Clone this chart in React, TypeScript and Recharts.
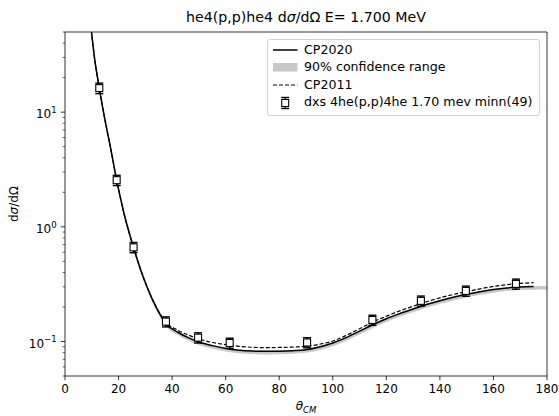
import {
  ComposedChart,
  Line,
  Area,
  Scatter,
  ErrorBar,
  XAxis,
  YAxis,
  ReferenceArea,
  Legend,
} from 'recharts';

const curveTheta = [
  9.6, 11, 12.8, 15, 17, 19.3, 22, 25.6, 28, 31, 34, 37.7, 42, 46, 50, 55, 60, 65, 70, 75,
  80, 85, 90, 95, 100, 105, 110, 115, 120, 125, 130, 135, 140, 145, 150, 155, 160, 165, 170, 175,
];
const cp2020 = [
  58, 30, 16.2, 8.4, 4.9, 2.55, 1.32, 0.66, 0.44, 0.285, 0.2, 0.143, 0.121, 0.108, 0.099, 0.092,
  0.087, 0.084, 0.0825, 0.082, 0.0823, 0.0832, 0.0848, 0.0895, 0.097, 0.108, 0.123, 0.14, 0.158,
  0.175, 0.192, 0.21, 0.227, 0.243, 0.258, 0.272, 0.284, 0.293, 0.299, 0.301,
];
const cp2011 = [
  58, 30, 16.2, 8.4, 4.9, 2.55, 1.32, 0.66, 0.44, 0.285, 0.2, 0.147, 0.126, 0.114, 0.105, 0.098,
  0.094, 0.0908, 0.089, 0.0884, 0.0887, 0.0894, 0.0906, 0.0945, 0.101, 0.113, 0.129, 0.148, 0.166,
  0.185, 0.203, 0.222, 0.24, 0.257, 0.272, 0.288, 0.302, 0.313, 0.321, 0.326,
];

const bandTheta = [...curveTheta, 180];
const bandLow = [
  55, 28.5, 15.4, 8.0, 4.65, 2.42, 1.25, 0.625, 0.415, 0.27, 0.189, 0.135, 0.114, 0.102, 0.093,
  0.0865, 0.0818, 0.079, 0.0776, 0.0771, 0.0774, 0.0782, 0.0797, 0.0837, 0.091, 0.101, 0.115,
  0.131, 0.148, 0.164, 0.18, 0.197, 0.213, 0.228, 0.242, 0.255, 0.266, 0.275, 0.281, 0.283, 0.284,
];
const bandHigh = [
  59, 30.4, 16.4, 8.5, 4.95, 2.58, 1.34, 0.668, 0.445, 0.288, 0.202, 0.145, 0.123, 0.109, 0.1,
  0.093, 0.088, 0.0849, 0.0834, 0.0829, 0.0832, 0.0841, 0.0857, 0.0899, 0.098, 0.109, 0.124,
  0.142, 0.16, 0.177, 0.194, 0.212, 0.229, 0.245, 0.26, 0.274, 0.286, 0.295, 0.301, 0.303, 0.304,
];

// minn(49) data set
const expTheta = [12.8, 19.3, 25.6, 37.7, 49.7, 61.5, 90.4, 114.8, 132.9, 149.7, 168.4];
const expValue = [16.2, 2.55, 0.662, 0.149, 0.108, 0.097, 0.098, 0.154, 0.226, 0.276, 0.318];
const expError = [1.7, 0.26, 0.068, 0.015, 0.011, 0.0098, 0.0099, 0.0155, 0.023, 0.028, 0.032];

const xTicks = [0, 20, 40, 60, 80, 100, 120, 140, 160, 180];
const yMajorTicks = [0.1, 1, 10];
const yMajorExponents = ['\u22121', '0', '1'];
const yMinorTicks = [
  0.05, 0.06, 0.07, 0.08, 0.09, 0.2, 0.3, 0.4, 0.5, 0.6, 0.7, 0.8, 0.9,
  2, 3, 4, 5, 6, 7, 8, 9, 20, 30, 40, 50,
];

const FONT = '"DejaVu Sans", sans-serif';

const cp2020Data = curveTheta.map((t, i) => ({ theta: t, y: cp2020[i] }));
const cp2011Data = curveTheta.map((t, i) => ({ theta: t, y: cp2011[i] }));
const bandData = bandTheta.map((t, i) => ({ theta: t, range: [bandLow[i], bandHigh[i]] }));
const expData = expTheta.map((t, i) => ({ theta: t, y: expValue[i], err: expError[i] }));

function XTick(props: any) {
  const { x, y, payload } = props;
  return (
    <g>
      <line x1={x} x2={x} y1={y} y2={y + 4.2} stroke="#000" strokeWidth={0.8} />
      <text x={x} y={y + 17.4} textAnchor="middle" fontSize={12} fontFamily={FONT} fill="#000">
        {payload.value}
      </text>
    </g>
  );
}

function YTick(props: any) {
  const { x, y, payload } = props;
  const idx = yMajorTicks.indexOf(payload.value);
  const major = idx >= 0;
  return (
    <g>
      <line x1={x - (major ? 4.2 : 2.4)} x2={x} y1={y} y2={y} stroke="#000" strokeWidth={major ? 0.8 : 0.6} />
      {major && (
        <text x={x - 8.4} y={y + 6.3} textAnchor="end" fontSize={12} fontFamily={FONT} fill="#000">
          10
          <tspan dy={-5.4} fontSize={8.5}>
            {yMajorExponents[idx]}
          </tspan>
        </text>
      )}
    </g>
  );
}

function SquareMarker(props: any) {
  const { cx, cy } = props;
  if (cx == null || cy == null) return null;
  return <rect x={cx - 3.5} y={cy - 3.5} width={7} height={7} fill="#fff" stroke="#000" strokeWidth={1.1} />;
}

function LegendBox() {
  const row = { display: 'flex', alignItems: 'center', height: 17.6 } as const;
  const handle = { width: 36, flex: 'none' } as const;
  return (
    <div
      style={{
        boxSizing: 'border-box',
        width: 273,
        height: 77,
        paddingTop: 1,
        border: '1px solid #d0d0d0',
        borderRadius: 3,
        background: 'rgba(255,255,255,0.8)',
        fontFamily: FONT,
        fontSize: 12.6,
        color: '#000',
        lineHeight: 1,
        whiteSpace: 'nowrap',
      }}
    >
      <div style={row}>
        <svg style={handle} width={36} height={12}>
          <line x1={5} x2={29.5} y1={6} y2={6} stroke="#000" strokeWidth={1.5} />
        </svg>
        <span>CP2020</span>
      </div>
      <div style={row}>
        <svg style={handle} width={36} height={12}>
          <rect x={5} y={2} width={24.5} height={8.5} fill="#c8c8c8" />
        </svg>
        <span>90% confidence range</span>
      </div>
      <div style={row}>
        <svg style={handle} width={36} height={12}>
          <line x1={5} x2={29.5} y1={6} y2={6} stroke="#000" strokeWidth={1.2} strokeDasharray="4 2" />
        </svg>
        <span>CP2011</span>
      </div>
      <div style={row}>
        <svg style={handle} width={36} height={14}>
          <line x1={17.2} x2={17.2} y1={1.5} y2={12.5} stroke="#000" strokeWidth={1.2} />
          <line x1={13.2} x2={21.2} y1={1.5} y2={1.5} stroke="#000" strokeWidth={1.4} />
          <line x1={13.2} x2={21.2} y1={12.5} y2={12.5} stroke="#000" strokeWidth={1.4} />
          <rect x={13.7} y={3.5} width={7} height={7} fill="#fff" stroke="#000" strokeWidth={1.1} />
        </svg>
        <span>dxs 4he(p,p)4he 1.70 mev minn(49)</span>
      </div>
    </div>
  );
}

export default function App() {
  return (
    <div style={{ position: 'absolute', left: 0, top: 0, width: 559, height: 416, background: '#fff' }}>
      <ComposedChart width={559} height={416} margin={{ top: 32, right: 12, bottom: 0, left: 0 }}>
        <XAxis
          type="number"
          dataKey="theta"
          domain={[0, 180]}
          ticks={xTicks}
          interval={0}
          allowDataOverflow
          height={40}
          axisLine={false}
          tickLine={false}
          tickSize={0}
          tickMargin={0}
          tick={<XTick />}
        />
        <YAxis
          type="number"
          dataKey="y"
          scale="log"
          domain={[0.05, 50]}
          ticks={[...yMinorTicks, ...yMajorTicks].sort((a, b) => a - b)}
          interval={0}
          allowDataOverflow
          width={65}
          axisLine={false}
          tickLine={false}
          tickSize={0}
          tickMargin={0}
          tick={<YTick />}
        />
        <Area
          data={bandData}
          dataKey="range"
          type="monotone"
          fill="#c8c8c8"
          fillOpacity={1}
          stroke="none"
          isAnimationActive={false}
        />
        <Line
          data={cp2011Data}
          dataKey="y"
          type="monotone"
          stroke="#000"
          strokeWidth={1.2}
          strokeDasharray="4 2"
          dot={false}
          isAnimationActive={false}
        />
        <Line
          data={cp2020Data}
          dataKey="y"
          type="monotone"
          stroke="#000"
          strokeWidth={1.5}
          dot={false}
          isAnimationActive={false}
        />
        <Scatter data={expData} dataKey="y" shape={<SquareMarker />} isAnimationActive={false}>
          <ErrorBar dataKey="err" direction="y" width={4} stroke="#000" strokeWidth={1.4} />
        </Scatter>
        <ReferenceArea x1={0} x2={180} y1={0.05} y2={50} fill="none" stroke="#000" strokeWidth={0.8} />
        <Legend
          layout="vertical"
          align="center"
          verticalAlign="middle"
          wrapperStyle={{ left: 267, top: 39, width: 273, height: 77 }}
          content={() => <LegendBox />}
        />
        <text x={306} y={22} textAnchor="middle" fontSize={14.2} fontFamily={FONT} fill="#000">
          he4(p,p)he4 d<tspan fontStyle="italic">σ</tspan>/dΩ E= 1.700 MeV
        </text>
        <text
          x={18}
          y={204}
          textAnchor="middle"
          fontSize={12}
          fontFamily={FONT}
          fill="#000"
          transform="rotate(-90 18 204)"
        >
          d<tspan fontStyle="italic">σ</tspan>/dΩ
        </text>
        <text x={306} y={410} textAnchor="middle" fontSize={12} fontFamily={FONT} fill="#000" fontStyle="italic">
          θ
          <tspan fontSize={8.5} dy={2.5}>
            CM
          </tspan>
        </text>
      </ComposedChart>
    </div>
  );
}
